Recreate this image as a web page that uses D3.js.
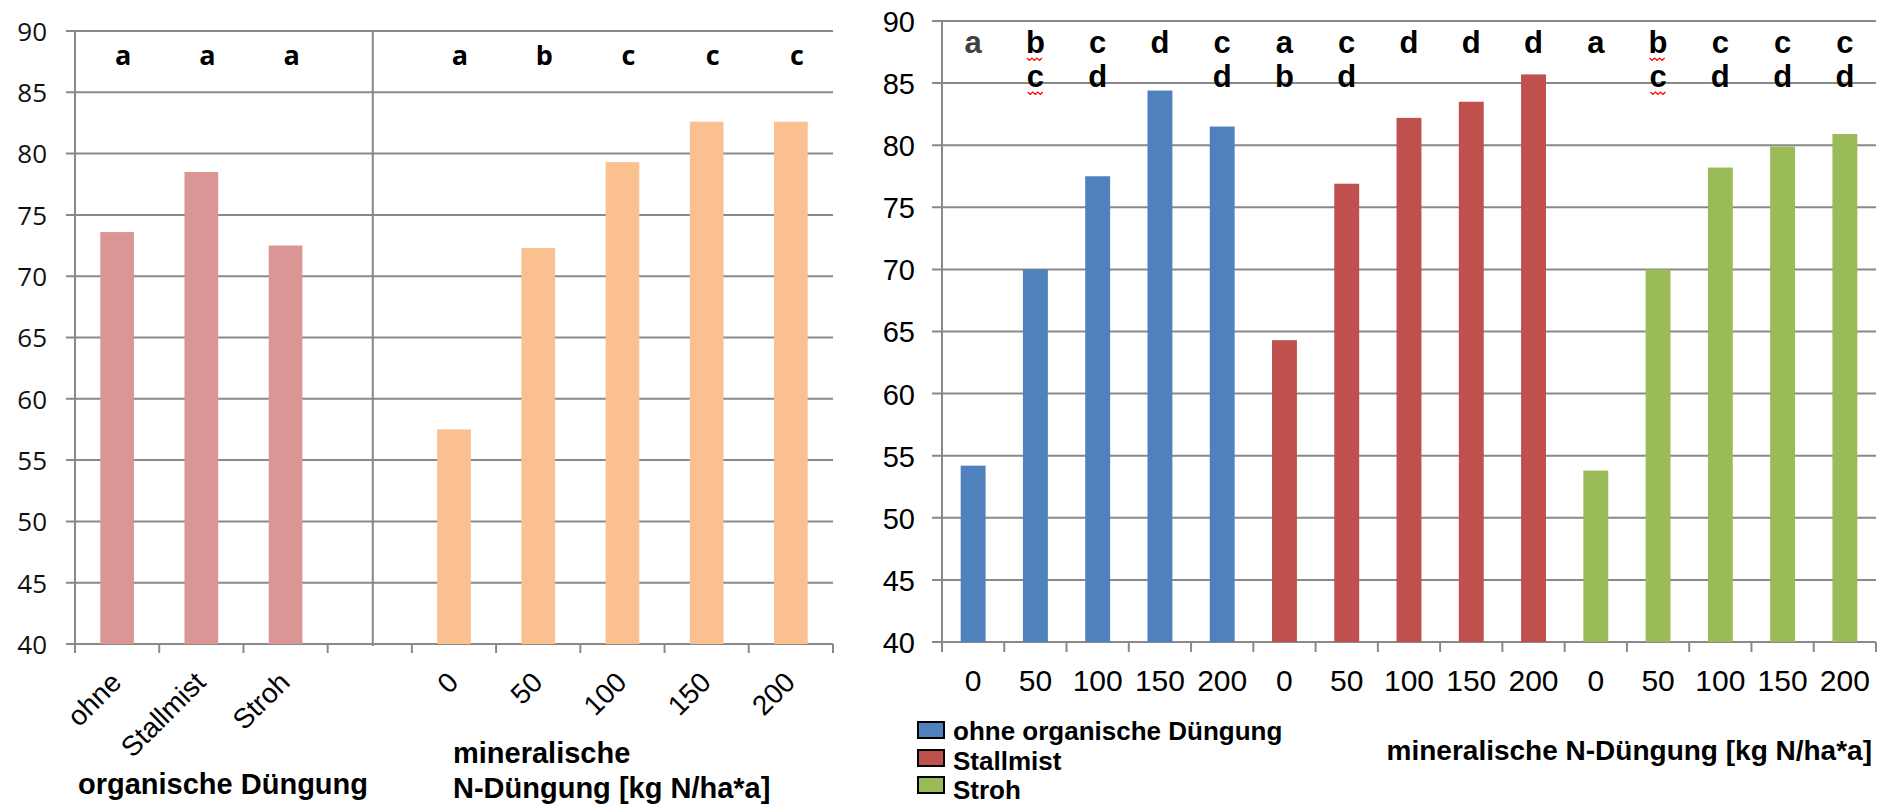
<!DOCTYPE html>
<html>
<head>
<meta charset="utf-8">
<script src="https://cdn.jsdelivr.net/npm/d3@7"></script>
<style>
  html, body { margin: 0; padding: 0; background: #ffffff; }
  svg { display: block; }
</style>
</head>
<body>
<svg id="chart" width="1893" height="804"></svg>
<script>
// ---------- data: left panel (main effects) ----------
const yTicks = [40, 45, 50, 55, 60, 65, 70, 75, 80, 85, 90];

const organicLabels  = ["ohne", "Stallmist", "Stroh"];
const organicValues  = [73.6, 78.5, 72.5];
const organicLetters = ["a", "a", "a"];

const mineralLabels  = ["0", "50", "100", "150", "200"];
const mineralValues  = [57.5, 72.3, 79.3, 82.6, 82.6];
const mineralLetters = ["a", "b", "c", "c", "c"];

const leftTitleOrganic = "organische Düngung";
const leftTitleMineral = ["mineralische", "N-Düngung [kg N/ha*a]"];

// ---------- data: right panel (interaction) ----------
const seriesNames = ["ohne organische Düngung", "Stallmist", "Stroh"];
const nRates = ["0", "50", "100", "150", "200"];

const ohneValues      = [54.2, 70.0, 77.5, 84.4, 81.5];
const stallmistValues = [64.3, 76.9, 82.2, 83.5, 85.7];
const strohValues     = [53.8, 70.0, 78.2, 79.9, 80.9];

const ohneLetters      = [["a"], ["b", "c"], ["c", "d"], ["d"], ["c", "d"]];
const stallmistLetters = [["a", "b"], ["c", "d"], ["d"], ["d"], ["d"]];
const strohLetters     = [["a"], ["b", "c"], ["c", "d"], ["c", "d"], ["c", "d"]];

// letters carrying a spell-check underline
const ohneFlagged      = [false, true, false, false, false];
const stallmistFlagged = [false, false, false, false, false];
const strohFlagged     = [false, true, false, false, false];

const rightTitle = "mineralische N-Düngung [kg N/ha*a]";

// ---------- styling ----------
const GRID = "#898989";
const SANS = "'Liberation Sans', Arial, sans-serif";
const CAL  = "'Open Sans', 'Noto Sans', sans-serif";
const organicColor = "#D99694";
const mineralColor = "#FAC090";
const seriesColors = ["#4F81BD", "#C0504D", "#9BBB59"];

const svg = d3.select("#chart");

function drawGrid(g, y, x0, x1, tickLen) {
  g.selectAll("line.grid")
    .data(yTicks)
    .join("line")
    .attr("class", "grid")
    .attr("x1", x0 - tickLen).attr("x2", x1)
    .attr("y1", d => y(d)).attr("y2", d => y(d))
    .attr("stroke", GRID).attr("stroke-width", 2);
}

function drawCategoryTicks(g, x, y0, tickLen) {
  const [r0] = x.range();
  const n = x.domain().length;
  g.selectAll("line.cat-tick")
    .data(d3.range(n + 1))
    .join("line")
    .attr("class", "cat-tick")
    .attr("x1", i => r0 + i * x.step()).attr("x2", i => r0 + i * x.step())
    .attr("y1", y0).attr("y2", y0 + tickLen)
    .attr("stroke", GRID).attr("stroke-width", 2);
}

// =====================================================
// Left panel
// =====================================================
{
  const P = { left: 75, right: 833, top: 31, bottom: 644 };
  const keys = [...organicLabels, "gap", ...mineralLabels.map(d => "N" + d)];
  const x = d3.scaleBand().domain(keys).range([P.left, P.right])
    .paddingInner(0.6).paddingOuter(0.3);
  const y = d3.scaleLinear().domain([40, 90]).range([P.bottom, P.top]);
  const g = svg.append("g");

  drawGrid(g, y, P.left, P.right, 9);

  // y axis labels
  const yAxis = d3.axisLeft(y).tickValues(yTicks).tickSize(0).tickPadding(28);
  const ya = g.append("g").attr("transform", `translate(${P.left},0)`).call(yAxis);
  ya.select(".domain").remove();
  ya.selectAll("text")
    .attr("font-family", CAL).attr("font-size", 26).attr("fill", "#111")
    .attr("dy", "0.36em");

  // vertical axis line
  g.append("line")
    .attr("x1", P.left).attr("x2", P.left)
    .attr("y1", P.top).attr("y2", P.bottom + 9)
    .attr("stroke", GRID).attr("stroke-width", 2);

  drawCategoryTicks(g, x, P.bottom, 9);

  // divider between organic and mineral groups
  const xDiv = x("gap") + x.bandwidth() / 2 + 3;
  g.append("line")
    .attr("x1", xDiv).attr("x2", xDiv)
    .attr("y1", P.top).attr("y2", P.bottom + 2)
    .attr("stroke", GRID).attr("stroke-width", 2);

  const bars = [
    ...organicLabels.map((k, i) => ({ key: k, label: k, value: organicValues[i], letter: organicLetters[i], color: organicColor })),
    ...mineralLabels.map((k, i) => ({ key: "N" + k, label: k, value: mineralValues[i], letter: mineralLetters[i], color: mineralColor }))
  ];

  g.selectAll("rect.bar")
    .data(bars)
    .join("rect")
    .attr("class", "bar")
    .attr("x", d => x(d.key))
    .attr("width", x.bandwidth())
    .attr("y", d => y(d.value))
    .attr("height", d => y(40) - y(d.value))
    .attr("fill", d => d.color);

  // significance letters
  g.selectAll("text.letter")
    .data(bars)
    .join("text")
    .attr("class", "letter")
    .attr("x", d => x(d.key) + x.bandwidth() / 2 + 6)
    .attr("y", 65)
    .attr("text-anchor", "middle")
    .attr("font-family", CAL).attr("font-weight", 700).attr("font-size", 27)
    .attr("fill", "#000")
    .text(d => d.letter);

  // rotated category labels
  g.selectAll("text.cat")
    .data(bars)
    .join("text")
    .attr("class", "cat")
    .attr("transform", d => `translate(${x(d.key) + x.bandwidth() / 2 - 1},677) rotate(-45)`)
    .attr("text-anchor", "end")
    .attr("dy", "0.35em")
    .attr("font-family", SANS).attr("font-size", 28).attr("fill", "#000")
    .text(d => d.label);

  // axis titles
  g.append("text")
    .attr("x", 78).attr("y", 794)
    .attr("font-family", SANS).attr("font-weight", 700).attr("font-size", 29)
    .text(leftTitleOrganic);
  g.selectAll("text.mtitle")
    .data(leftTitleMineral)
    .join("text")
    .attr("class", "mtitle")
    .attr("x", 453).attr("y", (d, i) => 763 + i * 35)
    .attr("font-family", SANS).attr("font-weight", 700).attr("font-size", 29)
    .text(d => d);
}

// =====================================================
// Right panel
// =====================================================
{
  const P = { left: 942, right: 1876, top: 21, bottom: 642 };
  const seriesKeys = ["ohne", "stallmist", "stroh"];
  const seriesValues = [ohneValues, stallmistValues, strohValues];
  const seriesLetters = [ohneLetters, stallmistLetters, strohLetters];
  const seriesFlagged = [ohneFlagged, stallmistFlagged, strohFlagged];

  const rows = [];
  seriesKeys.forEach((s, si) => {
    nRates.forEach((r, ri) => {
      rows.push({
        key: s + "-" + r, series: si, index: ri, label: r,
        value: seriesValues[si][ri],
        letters: seriesLetters[si][ri],
        flagged: seriesFlagged[si][ri]
      });
    });
  });

  const x = d3.scaleBand().domain(rows.map(d => d.key)).range([P.left, P.right])
    .paddingInner(0.6).paddingOuter(0.3);
  const y = d3.scaleLinear().domain([40, 90]).range([P.bottom, P.top]);
  const g = svg.append("g");

  drawGrid(g, y, P.left, P.right, 10);

  const yAxis = d3.axisLeft(y).tickValues(yTicks).tickSize(0).tickPadding(27);
  const ya = g.append("g").attr("transform", `translate(${P.left},0)`).call(yAxis);
  ya.select(".domain").remove();
  ya.selectAll("text")
    .attr("font-family", SANS).attr("font-size", 29).attr("fill", "#000")
    .attr("dy", "0.36em");

  g.append("line")
    .attr("x1", P.left).attr("x2", P.left)
    .attr("y1", P.top).attr("y2", P.bottom + 10)
    .attr("stroke", GRID).attr("stroke-width", 2);

  drawCategoryTicks(g, x, P.bottom, 10);

  g.selectAll("rect.bar")
    .data(rows)
    .join("rect")
    .attr("class", "bar")
    .attr("x", d => x(d.key))
    .attr("width", x.bandwidth())
    .attr("y", d => y(d.value))
    .attr("height", d => y(40) - y(d.value))
    .attr("fill", d => seriesColors[d.series]);

  // N-rate labels
  const xa = d3.axisBottom(x).tickSize(0).tickPadding(0).tickFormat(k => rows.find(r => r.key === k).label);
  const xag = g.append("g").attr("transform", `translate(0,${P.bottom})`).call(xa);
  xag.select(".domain").remove();
  xag.selectAll("text")
    .attr("font-family", SANS).attr("font-size", 30).attr("fill", "#000")
    .attr("dy", null).attr("y", 49);

  // significance letters (one or two rows)
  const letterRows = [53, 87];
  const letterG = g.append("g");
  rows.forEach(d => {
    d.letters.forEach((ch, li) => {
      const cx = x(d.key) + x.bandwidth() / 2;
      const t = letterG.append("text")
        .attr("x", cx).attr("y", letterRows[li])
        .attr("text-anchor", "middle")
        .attr("font-family", SANS).attr("font-weight", 700).attr("font-size", 31)
        .attr("fill", (d.series === 0 && d.index === 0) ? "#404040" : "#000")
        .text(ch);
      if (d.flagged) {
        const bb = t.node().getBBox();
        const yy = letterRows[li] + 5;
        const pts = [];
        let px = bb.x + 1, up = true;
        while (px <= bb.x + bb.width - 1) {
          pts.push([px, up ? yy : yy + 2.5]);
          px += 2.5; up = !up;
        }
        letterG.append("path")
          .attr("d", d3.line()(pts))
          .attr("fill", "none").attr("stroke", "#ff0000").attr("stroke-width", 1.2);
      }
    });
  });

  // legend
  const lg = g.append("g");
  const legendRows = seriesNames.map((name, i) => ({ name, i }));
  lg.selectAll("rect")
    .data(legendRows)
    .join("rect")
    .attr("x", 918).attr("y", d => [722, 750, 777][d.i])
    .attr("width", 26).attr("height", 16)
    .attr("fill", d => seriesColors[d.i])
    .attr("stroke", "#000").attr("stroke-width", 2);
  lg.selectAll("text")
    .data(legendRows)
    .join("text")
    .attr("x", 953).attr("y", d => [740, 770, 799][d.i])
    .attr("font-family", SANS).attr("font-weight", 700).attr("font-size", 26)
    .text(d => d.name);

  g.append("text")
    .attr("x", 1872).attr("y", 760)
    .attr("text-anchor", "end")
    .attr("font-family", SANS).attr("font-weight", 700).attr("font-size", 28)
    .text(rightTitle);
}
</script>
</body>
</html>
